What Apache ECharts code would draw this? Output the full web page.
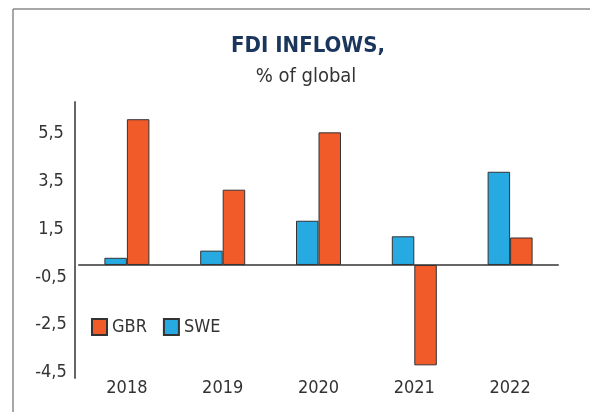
<!DOCTYPE html>
<html>
<head>
<meta charset="utf-8">
<script src="https://cdn.jsdelivr.net/npm/echarts@6/dist/echarts.min.js"></script>
<style>
    html, body { margin: 0; padding: 0; background: #fff; }
    #chart { width: 590px; height: 412px; }
</style>
</head>
<body>
<div id="chart"></div>
<script>
    // data
    var years = ['2018', '2019', '2020', '2021', '2022'];
    var gbr = [6.1, 3.15, 5.55, -4.2, 1.15];
    var swe = [0.3, 0.6, 1.85, 1.2, 3.9];
    var yTicks = [-4.5, -2.5, -0.5, 1.5, 3.5, 5.5];

    var font = '"Liberation Sans Narrow", "DejaVu Sans Condensed", Roboto, sans-serif';
    var orange = '#F15A29';
    var blue = '#27A9E1';

    var chart = echarts.init(document.getElementById('chart'));
    chart.setOption({
        animation: false,
        textStyle: { fontFamily: font },
        title: [
            {
                text: 'FDI INFLOWS,',
                left: 303, top: 30, textAlign: 'center',
                textStyle: { fontFamily: font, fontSize: 22, fontWeight: 'bold', color: '#1B365D' }
            },
            {
                text: '% of global',
                left: 301, top: 62, textAlign: 'center',
                textStyle: { fontFamily: font, fontSize: 20, fontWeight: 'normal', color: '#333' }
            }
        ],
        legend: {
            data: ['GBR', 'SWE'],
            icon: 'rect',
            left: 86, top: 313,
            itemWidth: 15, itemHeight: 16, itemGap: 16,
            textStyle: { fontFamily: font, fontSize: 18, color: '#333' }
        },
        graphic: [
            // frame of the panel
            { type: 'line', shape: { x1: 13, y1: 9, x2: 590, y2: 9 }, style: { stroke: '#8a8a8a', lineWidth: 1.5 } },
            { type: 'line', shape: { x1: 13, y1: 9, x2: 13, y2: 412 }, style: { stroke: '#8a8a8a', lineWidth: 1.5 } }
        ],
        grid: { left: 79, right: 32, top: 102, bottom: 34 },
        xAxis: [
            {
                type: 'category',
                data: years,
                position: 'bottom',
                axisLine: { show: false, onZero: false },
                axisTick: { show: false },
                axisLabel: { margin: 1, fontSize: 18, color: '#333', fontFamily: font }
            },
            {
                type: 'category',
                data: years,
                axisLine: { onZero: true, lineStyle: { color: '#666', width: 2 } },
                axisTick: { show: false },
                axisLabel: { show: false }
            }
        ],
        yAxis: {
            type: 'value',
            min: -4.73,
            max: 6.82,
            offset: 4,
            splitLine: { show: false },
            axisTick: { show: false },
            axisLine: { show: true, lineStyle: { color: '#666', width: 2 } },
            axisLabel: {
                customValues: yTicks,
                align: 'center',
                margin: 24,
                fontSize: 18,
                color: '#333',
                fontFamily: font,
                formatter: function (v) { return String(v).replace('.', ','); }
            }
        },
        series: [
            {
                name: 'SWE',
                type: 'bar',
                data: swe,
                barWidth: 22.5,
                barGap: '0%',
                itemStyle: { color: blue, borderColor: '#333', borderWidth: 1 }
            },
            {
                name: 'GBR',
                type: 'bar',
                data: gbr,
                barWidth: 22.5,
                barGap: '0%',
                itemStyle: { color: orange, borderColor: '#333', borderWidth: 1 }
            }
        ]
    });
</script>
</body>
</html>
